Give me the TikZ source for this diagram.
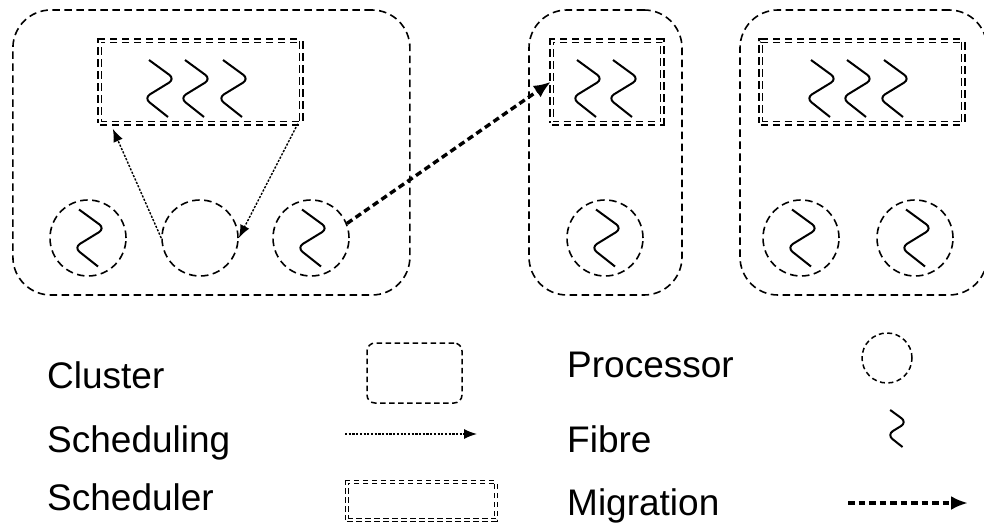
\documentclass[tikz,border=0pt]{standalone}
\usepackage{fontspec}
\setmainfont{Liberation Sans}
\usetikzlibrary{arrows.meta}
\begin{document}
\begin{tikzpicture}[x=1pt,y=-1pt,
  cluster/.style={draw,rectangle,line width=1.6pt,dash pattern=on 7.5pt off 4.5pt,
    rounded corners=38pt,inner sep=0pt,minimum width=#1,minimum height=285pt},
  schedbox/.style={draw,rectangle,line width=1.5pt,double,double distance=2pt,
    dash pattern=on 7.5pt off 4.5pt,inner sep=0pt,minimum width=#1,minimum height=82.5pt},
  proc/.style={draw,circle,line width=1.6pt,dash pattern=on 7.5pt off 4.5pt,
    inner sep=0pt,minimum size=76pt},
  schedarrow/.style={line width=1.4pt,dash pattern=on 2.2pt off 1.5pt,
    -{Latex[length=13pt,width=10pt]}},
  migrarrow/.style={line width=3.4pt,dash pattern=on 6.5pt off 4pt,
    -{Latex[length=17pt,width=14pt]}},
  label/.style={anchor=base west,inner sep=0pt,font=\fontsize{37}{44}\selectfont},
  fibre/.pic={\draw[line width=2pt,rounded corners=7pt]
    (-10.5,-28.5) -- (15.5,-9.5) -- (-15.5,9.5) -- (8.5,28.5);}
]
\useasboundingbox (0,0) rectangle (984,529);

% clusters
\node[cluster=397pt] (c1) at (211.4,152.5) {};
\node[cluster=153pt] (c2) at (605.5,152.5) {};
\node[cluster=247pt] (c3) at (863.5,152.5) {};

% schedulers with their queued fibres
\node[schedbox=201.5pt] (s1) at (200.3,81.8) {};
\node[schedbox=110.5pt] (s2) at (606.8,81.8) {};
\node[schedbox=202.5pt] (s3) at (861.8,81.8) {};
\foreach \fx in {159.5,195.5,233.5,587.5,623.5,821.5,857.5,894.5}
  \pic at (\fx,88.5) {fibre};

% processors
\node[proc] (p1) at (88,238) {};
\node[proc] (p2) at (200,238) {};
\node[proc] (p3) at (311,238) {};
\node[proc] (p4) at (605,238) {};
\node[proc] (p5) at (801,238) {};
\node[proc] (p6) at (915,238) {};
\foreach \p in {p1,p3,p4,p5,p6}
  \pic at ([xshift=1.5pt]\p.center) {fibre};

% scheduling and migration
\draw[schedarrow] (p2.west) -- ([xshift=14pt,yshift=-5pt]s1.south west);
\draw[schedarrow] ([xshift=-4pt]s1.south east) -- (p2.east);
\draw[migrarrow] (p3.22) -- (s2.west);

% legend
\node[label] (tcluster) at (47,388) {Cluster};
\node[label] (tsched) at (47,452) {Scheduling};
\node[label] (tscheduler) at (47,510) {Scheduler};
\node[label] (tproc) at (567,377) {Processor};
\node[label] (tfibre) at (567,452) {Fibre};
\node[label] (tmigr) at (567,515) {Migration};

\node[draw,rectangle,line width=1.5pt,dash pattern=on 5.5pt off 3.5pt,rounded corners=8pt,
  minimum width=95pt,minimum height=60pt] (lcluster) at (414.5,373) {};
\coordinate (lsa) at (345,434);
\coordinate (lsb) at (477,434);
\draw[schedarrow] (lsa) -- (lsb);
\node[draw,rectangle,line width=1.4pt,double,double distance=2pt,
  dash pattern=on 5.5pt off 3.5pt,inner sep=0pt,minimum width=149pt,minimum height=38pt]
  (lsched) at (421.5,501) {};
\node[draw,circle,line width=1.5pt,dash pattern=on 5pt off 3.5pt,inner sep=0pt,
  minimum size=50pt] (lproc) at (887,358) {};
\pic[scale=0.65] at (897,428.5) {fibre};
\coordinate (lma) at (848,503);
\coordinate (lmb) at (968,503);
\draw[migrarrow] (lma) -- (lmb);
\end{tikzpicture}
\end{document}
